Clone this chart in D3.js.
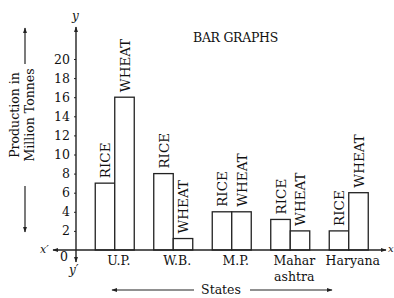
<!DOCTYPE html>
<html>
<head>
<meta charset="utf-8">
<script src="https://cdn.jsdelivr.net/npm/d3@7"></script>
<style>
  html, body { margin: 0; padding: 0; background: #fff; }
  svg { display: block; }
  text { font-family: "DejaVu Serif", "Liberation Serif", serif; fill: #111; }
</style>
</head>
<body>
<svg id="chart" width="394" height="298"></svg>
<script>
const states = ["U.P.", "W.B.", "M.P.", "Maharashtra", "Haryana"];
const stateLabels = [["U.P."], ["W.B."], ["M.P."], ["Mahar", "ashtra"], ["Haryana"]];
const series = ["RICE", "WHEAT"];
const rice = [7, 8, 4, 3.2, 2];
const wheat = [16, 1.2, 4, 2, 6];
const yTicks = [2, 4, 6, 8, 10, 12, 14, 16, 18, 20];
const title = "BAR GRAPHS";
const yTitle = ["Production in", "Million Tonnes"];
const xTitle = "States";

const svg = d3.select("#chart");
const ink = "#222";

const y = d3.scaleLinear().domain([0, 20]).range([250, 59]);
const x0 = d3.scaleBand().domain(states).range([85.5, 378]).paddingInner(1/3).paddingOuter(1/6);
const x1 = d3.scaleBand().domain(series).range([0, x0.bandwidth()]);
const axisX = 76;
const baseY = y(0);

const defs = svg.append("defs");
defs.append("marker").attr("id", "arr").attr("viewBox", "0 0 10 10")
  .attr("refX", 9).attr("refY", 5).attr("markerWidth", 6).attr("markerHeight", 6)
  .attr("orient", "auto-start-reverse").attr("markerUnits", "userSpaceOnUse")
  .append("path").attr("d", "M0,1.5 L10,5 L0,8.5 Z").attr("fill", ink);

// Title
svg.append("text").attr("x", 193).attr("y", 42).attr("font-size", 12.5)
  .attr("letter-spacing", -0.3).text(title);

// Bars
const rows = states.map((s, i) => ({ state: s, values: [ { k: "RICE", v: rice[i] }, { k: "WHEAT", v: wheat[i] } ] }));
const g = svg.append("g");
const grp = g.selectAll("g.grp").data(rows).join("g").attr("class", "grp")
  .attr("transform", d => `translate(${x0(d.state)},0)`);
grp.selectAll("rect").data(d => d.values).join("rect")
  .attr("x", d => x1(d.k)).attr("y", d => y(d.v))
  .attr("width", x1.bandwidth()).attr("height", d => baseY - y(d.v))
  .attr("fill", "#fff").attr("stroke", ink).attr("stroke-width", 1.3);
grp.selectAll("text.bl").data(d => d.values).join("text").attr("class", "bl")
  .attr("font-size", 13.5)
  .attr("transform", d => `translate(${x1(d.k) + x1.bandwidth() / 2 + 5},${y(d.v) - 5}) rotate(-90)`)
  .text(d => d.k);

// Y axis line with arrows
svg.append("line").attr("x1", axisX).attr("x2", axisX).attr("y1", 262).attr("y2", 27)
  .attr("stroke", ink).attr("stroke-width", 1.4)
  .attr("marker-start", "url(#arr)").attr("marker-end", "url(#arr)");
// X axis line with arrows
svg.append("line").attr("x1", 53).attr("x2", 386).attr("y1", baseY).attr("y2", baseY)
  .attr("stroke", ink).attr("stroke-width", 1.4)
  .attr("marker-start", "url(#arr)").attr("marker-end", "url(#arr)");

// Y ticks
const yAxis = d3.axisLeft(y).tickValues(yTicks).tickSize(2).tickPadding(4);
const ya = svg.append("g").attr("transform", `translate(${axisX},0)`).call(yAxis);
ya.select(".domain").remove();
ya.selectAll(".tick line").attr("stroke", ink);
ya.selectAll(".tick text").attr("font-size", 12.5).attr("font-family", "DejaVu Serif").attr("fill", "#111");

// zero label
svg.append("text").attr("x", 68).attr("y", 261).attr("font-size", 12.5).attr("text-anchor", "end").text("0");

// axis letters
svg.append("text").attr("x", 72).attr("y", 20).attr("font-size", 12).attr("font-style", "italic").text("y");
svg.append("text").attr("x", 69).attr("y", 274).attr("font-size", 12).attr("font-style", "italic").text("y\u2032");
svg.append("text").attr("x", 40).attr("y", 253).attr("font-size", 11).attr("font-style", "italic").text("x\u2032");
svg.append("text").attr("x", 388).attr("y", 252).attr("font-size", 10).attr("font-style", "italic").text("x");

// Category labels
const xa = svg.append("g");
xa.selectAll("text").data(states).join("text")
  .attr("x", d => x0(d) + x0.bandwidth() / 2 + 4)
  .attr("y", 265).attr("text-anchor", "middle").attr("font-size", 12.5)
  .each(function(d, i) {
    const t = d3.select(this);
    stateLabels[i].forEach((line, j) => {
      t.append("tspan").attr("x", x0(d) + x0.bandwidth() / 2 + 4).attr("dy", j === 0 ? 0 : 16).text(line);
    });
  });

// X title with arrows
svg.append("text").attr("x", 221).attr("y", 294).attr("text-anchor", "middle").attr("font-size", 12.5).text(xTitle);
svg.append("line").attr("x1", 194).attr("x2", 112).attr("y1", 290).attr("y2", 290)
  .attr("stroke", ink).attr("stroke-width", 1.2).attr("marker-end", "url(#arr)");
svg.append("line").attr("x1", 250).attr("x2", 332).attr("y1", 290).attr("y2", 290)
  .attr("stroke", ink).attr("stroke-width", 1.2).attr("marker-end", "url(#arr)");

// Y title with arrows
const yt = svg.append("text").attr("transform", "translate(19,115) rotate(-90)")
  .attr("text-anchor", "middle").attr("font-size", 12.5);
yTitle.forEach((line, j) => yt.append("tspan").attr("x", 0).attr("dy", j === 0 ? 0 : 15).text(line));
svg.append("line").attr("x1", 25).attr("x2", 25).attr("y1", 64).attr("y2", 28)
  .attr("stroke", ink).attr("stroke-width", 1.2).attr("marker-end", "url(#arr)");
svg.append("line").attr("x1", 25).attr("x2", 25).attr("y1", 186).attr("y2", 232)
  .attr("stroke", ink).attr("stroke-width", 1.2).attr("marker-end", "url(#arr)");
</script>
</body>
</html>
